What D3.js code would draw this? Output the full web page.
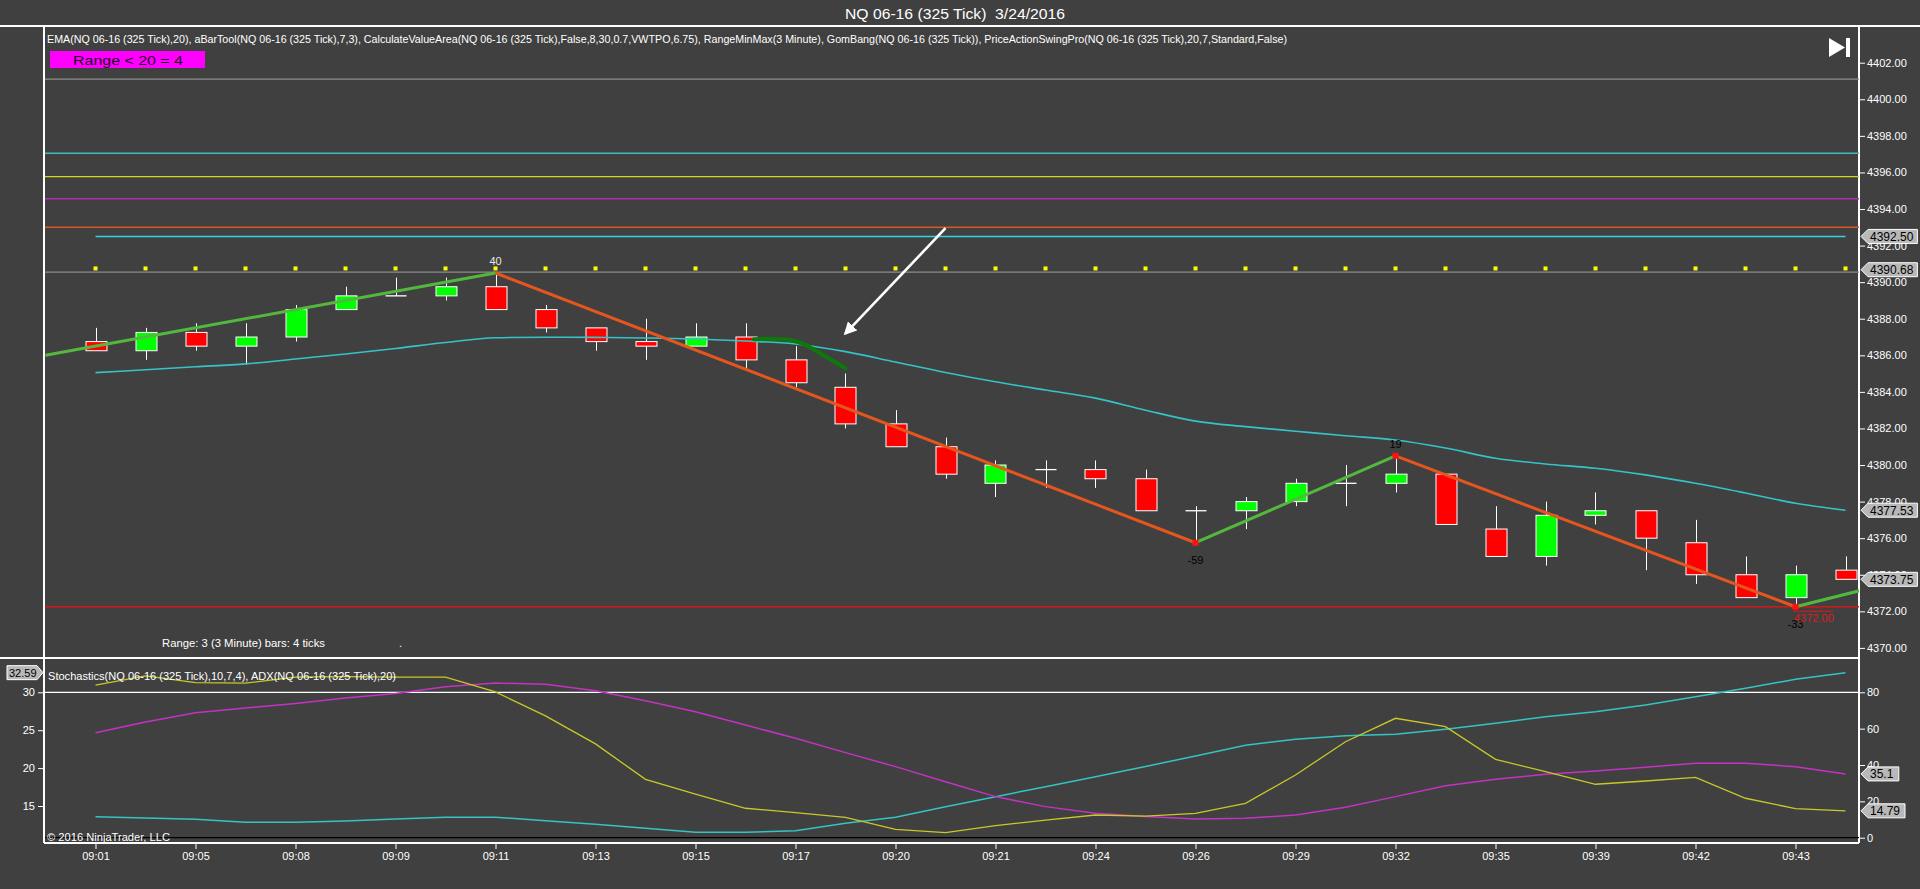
<!DOCTYPE html>
<html><head><meta charset="utf-8">
<script src="https://cdn.jsdelivr.net/npm/d3@7"></script>
<style>
body{margin:0;background:#404040;overflow:hidden}
svg{display:block}
text{font-family:"Liberation Sans",Arial,sans-serif;white-space:pre}
</style>
</head><body>
<svg id="c" width="1920" height="889"></svg>
<script>
// ---------------- DATA ----------------
const titleText = "NQ 06-16 (325 Tick)  3/24/2016";
const indicatorText = "EMA(NQ 06-16 (325 Tick),20), aBarTool(NQ 06-16 (325 Tick),7,3), CalculateValueArea(NQ 06-16 (325 Tick),False,8,30,0.7,VWTPO,6.75), RangeMinMax(3 Minute), GomBang(NQ 06-16 (325 Tick)), PriceActionSwingPro(NQ 06-16 (325 Tick),20,7,Standard,False)";
const rangeBoxText = "Range < 20 = 4";
const rangeInfoText = "Range: 3 (3 Minute) bars: 4 ticks";
const subPanelText = "Stochastics(NQ 06-16 (325 Tick),10,7,4), ADX(NQ 06-16 (325 Tick),20)";
const copyrightText = "\u00A9 2016 NinjaTrader, LLC";

const timeLabels = ["09:01","09:05","09:08","09:09","09:11","09:13","09:15","09:17","09:20","09:21","09:24","09:26","09:29","09:32","09:35","09:39","09:42","09:43"];
const timeLabelBars = [0,2,4,6,8,10,12,14,16,18,20,22,24,26,28,30,32,34];

const opens  = [4386.75,4386.25,4387.25,4386.5,4387.0,4388.5,4389.25,4389.25,4389.75,4388.5,4387.5,4386.75,4386.5,4387.0,4385.75,4384.25,4382.25,4381.0,4379.0,4379.75,4379.75,4379.25,4377.5,4377.5,4378.0,4379.0,4379.0,4379.5,4376.5,4375.0,4377.25,4377.5,4375.75,4374.0,4372.75,4374.25];
const highs  = [4387.5,4387.5,4387.75,4387.75,4388.75,4389.75,4390.25,4390.25,4390.5,4388.75,4387.5,4388.0,4387.75,4387.75,4386.5,4385.0,4383.0,4381.5,4380.25,4380.25,4380.25,4379.75,4377.75,4378.25,4379.25,4380.0,4380.5,4379.5,4377.75,4378.0,4378.5,4377.5,4377.0,4375.0,4374.5,4375.0];
const lows   = [4386.25,4385.75,4386.25,4385.5,4386.75,4388.5,4389.25,4389.0,4388.5,4387.25,4386.25,4385.75,4386.5,4385.25,4384.25,4382.0,4381.0,4379.25,4378.25,4378.75,4378.75,4377.5,4375.75,4376.5,4377.75,4377.75,4378.5,4376.75,4375.0,4374.5,4376.75,4374.25,4373.5,4372.75,4372.25,4373.75];
const closes = [4386.25,4387.25,4386.5,4387.0,4388.5,4389.25,4389.25,4389.75,4388.5,4387.5,4386.75,4386.5,4387.0,4385.75,4384.5,4382.25,4381.0,4379.5,4380.0,4379.75,4379.25,4377.5,4377.5,4378.0,4379.0,4379.0,4379.5,4376.75,4375.0,4377.25,4377.5,4376.0,4374.0,4372.75,4374.0,4373.75];

const emaValues = [4385.05,4385.21,4385.37,4385.53,4385.80,4386.07,4386.37,4386.70,4386.96,4386.99,4386.98,4386.95,4386.89,4386.78,4386.62,4386.20,4385.63,4385.06,4384.55,4384.10,4383.66,4383.00,4382.40,4382.10,4381.85,4381.60,4381.37,4380.93,4380.37,4380.06,4379.82,4379.46,4379.00,4378.47,4377.91,4377.53];

const levelValues = [4401.1, 4397.05, 4395.77, 4394.56, 4393.0, 4390.55, 4372.25];
const valueAreaLevel = 4392.5;
const dotLevel = 4390.75;

const swingBars   = [-1, 8, 22, 26, 34, 36];
const swingPrices = [4386.0, 4390.5, 4375.75, 4380.5, 4372.25, 4373.62];
const swingLabels = ["", "40", "-59", "19", "-33", ""];

const gomBars   = [13.17, 13.89, 14.2, 14.6, 15.0];
const gomPrices = [4386.88, 4386.84, 4386.57, 4385.93, 4385.29];

const arrowBars   = [17.0, 15.0];
const arrowPrices = [4392.95, 4387.2];

const rangeMinValue = 4372.00;
const rangeMinBars = [33.95, 34.75];

const priceTicks = [4370,4372,4374,4376,4378,4380,4382,4384,4386,4388,4390,4392,4394,4396,4398,4400,4402];
const priceTags = [4392.50, 4390.68, 4377.53, 4373.75];

const stochD = [84.0,89.0,85.3,85.0,88.3,88.6,88.4,88.3,80.2,67.0,51.6,32.1,24.0,16.2,13.8,11.2,4.6,2.8,6.6,9.7,12.5,11.9,13.4,18.9,34.5,52.8,65.7,61.1,43.1,36.3,29.4,31.2,33.2,21.7,16.0,14.79];
const stochK = [57.8,63.7,68.8,71.4,73.9,76.9,79.4,83.1,85.1,84.4,80.9,75.4,69.3,62.0,54.7,46.8,39.1,30.8,22.6,17.1,13.4,11.6,10.3,10.7,12.5,16.7,22.6,28.6,32.1,34.9,36.7,38.7,40.9,40.9,39.1,35.1];
const adxValues = [13.59,13.42,13.25,12.85,12.85,13.02,13.28,13.51,13.52,13.06,12.59,12.06,11.53,11.53,11.74,12.72,13.51,14.91,16.23,17.55,18.87,20.21,21.6,23.01,23.8,24.27,24.46,25.12,25.91,26.78,27.44,28.32,29.42,30.53,31.72,32.59];
const stochTicks = [0,20,40,60,80];
const adxTicks = [15,20,25,30];
const stochLines = [80, 0];

// ---------------- STYLE / LAYOUT ----------------
const PL = 44, PR = 1859, MT = 26, MB = 658, BB = 843;
const levelColors = ["#8c8c8c","#3cbcbc","#d4d420","#b42cb4","#d4582a","#8c8c8c","#d01818"];
const FONT = '"Liberation Sans", Arial, sans-serif';

const svg = d3.select("#c");
svg.append("rect").attr("width",1920).attr("height",889).attr("fill","#404040");

const x = d3.scaleLinear().domain([0,35]).range([95.5,1845.5]);
const y = d3.scaleLinear().domain([4370,4402]).range([647.9,62.7]);
const yS = d3.scaleLinear().domain([0,80]).range([837.7,692.3]);
const yA = d3.scaleLinear().domain([15,30]).range([806,692.3]);

const defs = svg.append("defs");
defs.append("clipPath").attr("id","mc").append("rect")
  .attr("x",PL+1).attr("y",MT+1).attr("width",PR-PL-1).attr("height",MB-MT-1);
defs.append("clipPath").attr("id","sc").append("rect")
  .attr("x",PL+1).attr("y",MB+1).attr("width",PR-PL-1).attr("height",BB-MB-1);
const mk = defs.append("marker").attr("id","ah").attr("viewBox","0 0 10 10")
  .attr("refX",8).attr("refY",5).attr("markerWidth",5).attr("markerHeight",5)
  .attr("orient","auto").attr("markerUnits","strokeWidth");
mk.append("path").attr("d","M0,0 L10,5 L0,10 Z").attr("fill","#ffffff");

// ---------- frame lines ----------
const frame = svg.append("g").attr("stroke","#ffffff").attr("stroke-width",1.2).attr("shape-rendering","crispEdges");
frame.append("line").attr("x1",0).attr("x2",1920).attr("y1",MT).attr("y2",MT);
frame.append("line").attr("x1",0).attr("x2",PR).attr("y1",MB).attr("y2",MB);
frame.append("line").attr("x1",PL).attr("x2",PR).attr("y1",BB).attr("y2",BB);
frame.append("line").attr("x1",PL).attr("x2",PL).attr("y1",MT).attr("y2",BB);
frame.append("line").attr("x1",PR).attr("x2",PR).attr("y1",MT).attr("y2",BB);

// ---------- title & header ----------
svg.append("text").attr("x",955).attr("y",19).attr("text-anchor","middle")
  .attr("fill","#ffffff").attr("font-size",15).attr("textLength",220).attr("lengthAdjust","spacingAndGlyphs").text(titleText);
svg.append("text").attr("x",47).attr("y",43).attr("fill","#ffffff").attr("font-size",11)
  .attr("textLength",1240).attr("lengthAdjust","spacingAndGlyphs").text(indicatorText);
svg.append("rect").attr("x",50).attr("y",51).attr("width",155).attr("height",17).attr("fill","#ff00ff");
svg.append("text").attr("x",73).attr("y",64.5).attr("fill","#1a001a").attr("font-size",13)
  .attr("textLength",110).attr("lengthAdjust","spacingAndGlyphs").text(rangeBoxText);
// play-to-end icon
svg.append("path").attr("d","M1829,38 L1845,47.5 L1829,57 Z").attr("fill","#ffffff");
svg.append("rect").attr("x",1846).attr("y",38).attr("width",4).attr("height",19).attr("fill","#ffffff");

// ---------- main panel ----------
const main = svg.append("g").attr("clip-path","url(#mc)");

main.selectAll("line.lvl").data(levelValues).join("line").attr("class","lvl")
  .attr("x1",PL).attr("x2",PR).attr("y1",d=>y(d)).attr("y2",d=>y(d))
  .attr("stroke",(d,i)=>levelColors[i]).attr("stroke-width",1.4);
main.append("line").attr("x1",x(0)).attr("x2",x(35))
  .attr("y1",y(valueAreaLevel)).attr("y2",y(valueAreaLevel))
  .attr("stroke","#30d4e0").attr("stroke-width",1.4);

main.selectAll("rect.dot").data(d3.range(opens.length)).join("rect").attr("class","dot")
  .attr("x",i=>x(i)-2).attr("y",y(dotLevel)-2).attr("width",4).attr("height",4).attr("fill","#ffff00");

// candles
const bars = d3.range(opens.length);
const cg = main.append("g");
cg.selectAll("line.wick").data(bars).join("line").attr("class","wick")
  .attr("x1",i=>Math.round(x(i))+0.5).attr("x2",i=>Math.round(x(i))+0.5)
  .attr("y1",i=>y(highs[i])).attr("y2",i=>y(lows[i]))
  .attr("stroke","#ffffff").attr("stroke-width",1);
cg.selectAll("rect.body").data(bars.filter(i=>opens[i]!==closes[i])).join("rect").attr("class","body")
  .attr("x",i=>Math.round(x(i))-10).attr("width",21)
  .attr("y",i=>y(Math.max(opens[i],closes[i])))
  .attr("height",i=>Math.abs(y(opens[i])-y(closes[i])))
  .attr("fill",i=>closes[i]>opens[i]?"#00ff00":"#ff0000")
  .attr("stroke","#ffffff").attr("stroke-width",1);
cg.selectAll("line.doji").data(bars.filter(i=>opens[i]===closes[i])).join("line").attr("class","doji")
  .attr("x1",i=>x(i)-10).attr("x2",i=>x(i)+11)
  .attr("y1",i=>y(opens[i])).attr("y2",i=>y(opens[i]))
  .attr("stroke","#ffffff").attr("stroke-width",1.3);

// EMA
main.append("path").datum(bars)
  .attr("d",d3.line().x(i=>x(i)).y(i=>y(emaValues[i])).curve(d3.curveMonotoneX))
  .attr("fill","none").attr("stroke","#34c4c8").attr("stroke-width",1.6);

// GomBang curve
main.append("path").datum(d3.range(gomBars.length))
  .attr("d",d3.line().x(i=>x(gomBars[i])).y(i=>y(gomPrices[i])).curve(d3.curveCatmullRom))
  .attr("fill","none").attr("stroke","#0b7a0b").attr("stroke-width",4).attr("stroke-linecap","round");

// swings
for (let k=0;k<swingBars.length-1;k++){
  const up = swingPrices[k+1] > swingPrices[k];
  main.append("line")
    .attr("x1",x(swingBars[k])).attr("y1",y(swingPrices[k]))
    .attr("x2",x(swingBars[k+1])).attr("y2",y(swingPrices[k+1]))
    .attr("stroke", up ? "#52b83e" : "#e4561e").attr("stroke-width",3);
}
[2,3,4].forEach(k=>{
  main.append("rect").attr("x",x(swingBars[k])-3).attr("y",y(swingPrices[k])-3)
    .attr("width",6).attr("height",6).attr("fill","#ff1010");
});
swingLabels.forEach((t,k)=>{
  if(!t) return;
  const high = k>0 && swingPrices[k] > swingPrices[k-1];
  main.append("text").attr("x",x(swingBars[k])).attr("text-anchor","middle")
    .attr("y", high ? y(swingPrices[k])-8 : y(swingPrices[k])+21)
    .attr("font-size",11).attr("fill", k===1 ? "#e8e8e8" : "#000000").text(t);
});

// range min marker
main.append("line").attr("x1",x(rangeMinBars[0])).attr("x2",x(rangeMinBars[1]))
  .attr("y1",y(rangeMinValue)).attr("y2",y(rangeMinValue)).attr("stroke","#d01818").attr("stroke-width",1.2);
main.append("text").attr("x",x(rangeMinBars[0])+1).attr("y",y(rangeMinValue)+11)
  .attr("font-size",11).attr("fill","#d42020").text(rangeMinValue.toFixed(2));

// arrow
main.append("line").attr("x1",x(arrowBars[0])).attr("y1",y(arrowPrices[0]))
  .attr("x2",x(arrowBars[1])).attr("y2",y(arrowPrices[1]))
  .attr("stroke","#ffffff").attr("stroke-width",2.6).attr("marker-end","url(#ah)");

main.append("text").attr("x",162).attr("y",646.5).attr("font-size",11).attr("fill","#ffffff")
  .attr("textLength",163).attr("lengthAdjust","spacingAndGlyphs").text(rangeInfoText);
main.append("text").attr("x",399).attr("y",646.5).attr("font-size",11).attr("fill","#ffffff").text(".");

// price axis
function styleAxis(g, size){
  g.select(".domain").remove();
  g.selectAll(".tick line").attr("stroke","#ffffff").attr("stroke-width",1);
  g.selectAll(".tick text").attr("fill","#ffffff").attr("font-size",size).attr("font-family",FONT);
}
svg.append("g").attr("transform",`translate(${PR},0)`)
  .call(d3.axisRight(y).tickValues(priceTicks).tickFormat(d3.format(".2f")).tickSize(6).tickPadding(2))
  .call(g=>styleAxis(g,11));

// tags
function rightTag(yv, txt){
  const w = txt.length*6.2+6;
  const x0 = PR+2;
  svg.append("path").attr("d",`M${x0},${yv} L${x0+7},${yv-7} L${x0+7+w},${yv-7} L${x0+7+w},${yv+7} L${x0+7},${yv+7} Z`)
    .attr("fill","#b8b8b8").attr("stroke","#ffffff").attr("stroke-width",1);
  svg.append("text").attr("x",x0+9).attr("y",yv+4.5).attr("font-size",12).attr("fill","#000000").text(txt);
}
priceTags.forEach(v=>rightTag(y(v), v.toFixed(2)));

// ---------- sub panel ----------
const sub = svg.append("g").attr("clip-path","url(#sc)");
sub.append("line").attr("x1",PL).attr("x2",PR).attr("y1",yS(stochLines[0])).attr("y2",yS(stochLines[0]))
  .attr("stroke","#ffffff").attr("stroke-width",1.3);
sub.append("line").attr("x1",PL).attr("x2",PR).attr("y1",yS(stochLines[1])).attr("y2",yS(stochLines[1]))
  .attr("stroke","#000000").attr("stroke-width",1.3);

sub.append("path").datum(bars).attr("d",d3.line().x(i=>x(i)).y(i=>yA(adxValues[i])))
  .attr("fill","none").attr("stroke","#34c4c4").attr("stroke-width",1.5);
sub.append("path").datum(bars).attr("d",d3.line().x(i=>x(i)).y(i=>yS(stochK[i])))
  .attr("fill","none").attr("stroke","#c432c4").attr("stroke-width",1.5);
sub.append("path").datum(bars).attr("d",d3.line().x(i=>x(i)).y(i=>yS(stochD[i])))
  .attr("fill","none").attr("stroke","#c8c82a").attr("stroke-width",1.3);

svg.append("text").attr("x",48).attr("y",680).attr("font-size",11).attr("fill","#ffffff")
  .attr("textLength",348).attr("lengthAdjust","spacingAndGlyphs").text(subPanelText);
svg.append("text").attr("x",47).attr("y",841).attr("font-size",11).attr("fill","#ffffff")
  .attr("textLength",123).attr("lengthAdjust","spacingAndGlyphs").text(copyrightText);

svg.append("g").attr("transform",`translate(${PR},0)`)
  .call(d3.axisRight(yS).tickValues(stochTicks).tickFormat(d3.format("d")).tickSize(6).tickPadding(2))
  .call(g=>styleAxis(g,11));
svg.append("g").attr("transform",`translate(${PL},0)`)
  .call(d3.axisLeft(yA).tickValues(adxTicks).tickFormat(d3.format("d")).tickSize(6).tickPadding(3))
  .call(g=>styleAxis(g,11));

rightTag(yS(stochK[stochK.length-1]), String(stochK[stochK.length-1]));
rightTag(yS(stochD[stochD.length-1]), String(stochD[stochD.length-1]));
// left ADX tag
(function(){
  const yv = yA(adxValues[adxValues.length-1]);
  svg.append("path").attr("d",`M7,${yv-7} L37,${yv-7} L43,${yv} L37,${yv+7} L7,${yv+7} Z`)
    .attr("fill","#b8b8b8").attr("stroke","#ffffff").attr("stroke-width",1);
  svg.append("text").attr("x",9).attr("y",yv+4.5).attr("font-size",11).attr("fill","#000000")
    .text(adxValues[adxValues.length-1].toFixed(2));
})();

// x axis
svg.append("g").attr("transform",`translate(0,${BB})`)
  .call(d3.axisBottom(x).tickValues(timeLabelBars).tickFormat((d,i)=>timeLabels[i]).tickSize(6).tickPadding(3))
  .call(g=>styleAxis(g,11));
</script>
</body></html>
